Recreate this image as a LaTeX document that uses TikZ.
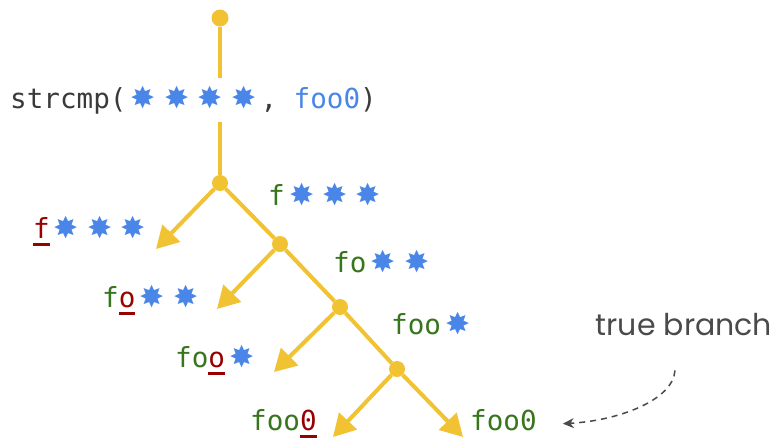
\documentclass[tikz,border=0pt]{standalone}
\usepackage{fontspec}
\usetikzlibrary{arrows.meta}
\setmonofont{DejaVu Sans Mono}
\newfontfamily\starfont{DejaVu Sans}
\newfontfamily\handfont{Poppins}
\definecolor{yel}{HTML}{F1C232}
\definecolor{grn}{HTML}{38761D}
\definecolor{ured}{HTML}{990000}
\definecolor{sblue}{HTML}{4A86E8}
\definecolor{txt}{HTML}{3A3A3A}
\definecolor{gry}{HTML}{4A4A4A}
\newcommand\st{\makebox[33.5pt]{\starfont\fontsize{30}{30}\selectfont\color{sblue}✸}}
\newcommand\ulr[1]{{\color{ured}\setbox0\hbox{#1}\rlap{\rule[-7.5pt]{\wd0}{3pt}}\box0}}
\tikzset{
  mono/.style={font=\ttfamily\fontsize{27.6}{30}\selectfont, inner sep=0pt, anchor=base west},
  dot/.style={circle, fill=yel, minimum size=16pt, inner sep=0pt},
  ln/.style={draw=yel, line width=4pt},
  br/.style={ln, -{Triangle[length=22pt,width=24pt]}},
}
\begin{document}
\begin{tikzpicture}[x=1pt,y=-1pt]
\useasboundingbox[fill=white] (0,0) rectangle (777,437);
% nodes
\node[dot, minimum size=17pt] (t) at (220,18) {};
\node[dot] (n1) at (220,183) {};
\node[dot] (n2) at (280,244) {};
\node[dot] (n3) at (340,307) {};
\node[dot] (n4) at (397,369) {};
\coordinate (a1) at (156,249);
\coordinate (a2) at (217,309);
\coordinate (a3) at (274,372);
\coordinate (a4) at (333,437);
\coordinate (a5) at (463,437);
% texts
\node[mono, text=txt, inner ysep=8pt] (s) at (10,108) {strcmp(\st\st\st\st, {\color{sblue}foo0})};
\node[mono, text=grn] (r1) at (268,205) {f\st\st\st};
\node[mono, text=grn] (l1) at (33,238) {\ulr{f}\st\st\st};
\node[mono, text=grn] (r2) at (333,272) {fo\st\st};
\node[mono, text=grn] (l2) at (102,307) {f\ulr{o}\st\st};
\node[mono, text=grn] (r3) at (391,334) {foo\st};
\node[mono, text=grn] (l3) at (175,367) {fo\ulr{o}\st};
\node[mono, text=grn] (l4) at (250,430) {foo\ulr{0}};
\node[mono, text=grn] (r4) at (470,430) {foo0};
\node[font=\handfont\fontsize{30}{32}\selectfont, text=gry, inner sep=0pt] (tb) at (684,325) {true branch};
% connectors
\draw[ln] (t) -- (t |- s.north);
\draw[ln] (s.south -| n1) -- (n1);
\draw[ln] (n1) -- (n2);
\draw[ln] (n2) -- (n3);
\draw[ln] (n3) -- (n4);
\draw[br] (n1) -- (a1);
\draw[br] (n2) -- (a2);
\draw[br] (n3) -- (a3);
\draw[br] (n4) -- (a4);
\draw[br] (n4) -- (a5);
\draw[gry, line width=1.5pt, dash pattern=on 6pt off 5pt, -{Stealth[length=11pt,width=10pt]}]
  ([shift={(-9,34)}]tb.south) .. controls +(-2,30) and +(55,-3) .. ([shift={(26,4)}]r4.east);
\end{tikzpicture}
\end{document}
